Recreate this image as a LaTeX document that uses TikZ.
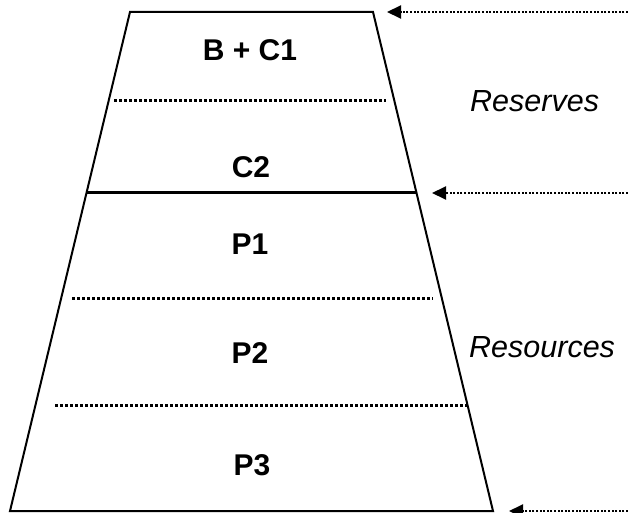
\documentclass[tikz,border=0pt]{standalone}
\usepackage{fontspec}
\setmainfont{Liberation Sans}
\usetikzlibrary{arrows.meta}
\begin{document}
\begin{tikzpicture}[x=1pt,y=-1pt,
  outline/.style={line width=2pt, line join=miter},
  sep/.style={line width=3pt, dash pattern=on 2.6pt off 2.4pt},
  divider/.style={line width=3pt},
  ptr/.style={line width=2pt, dash pattern=on 2pt off 1.6pt, -{Triangle[length=14pt,width=13pt]}},
  lvl/.style={font=\fontsize{30}{35}\selectfont\bfseries, inner sep=0pt},
  side/.style={font=\fontsize{30.5}{35}\selectfont\itshape, inner sep=0pt, anchor=west}]
\useasboundingbox (0,0) rectangle (628,513);
\coordinate (tl) at (130,12);
\coordinate (tr) at (373,12);
\coordinate (br) at (493,511);
\coordinate (bl) at (10,511);
\draw[outline] (tl) -- (tr) -- (br) -- (bl) -- cycle;
\draw[sep] (114,101) -- (386,101);
\draw[divider] (87,192) -- (416,192);
\draw[sep] (72,298) -- (433,298);
\draw[sep] (55,405) -- (468,405);
\node[lvl] (bc1) at (250,50) {B + C1};
\node[lvl] (c2) at (251,167) {C2};
\node[lvl] (p1) at (250,244) {P1};
\node[lvl] (p2) at (250,353) {P2};
\node[lvl] (p3) at (252,465) {P3};
\node[side] (res) at (470,101) {Reserves};
\node[side] (resc) at (469,347) {Resources};
\coordinate (a1s) at (628,12);
\coordinate (a1e) at (387,12);
\coordinate (a2s) at (628,193);
\coordinate (a2e) at (432,193);
\coordinate (a3s) at (628,511);
\coordinate (a3e) at (509,511);
\draw[ptr] (a1s) -- (a1e);
\draw[ptr] (a2s) -- (a2e);
\draw[ptr] (a3s) -- (a3e);
\end{tikzpicture}
\end{document}
